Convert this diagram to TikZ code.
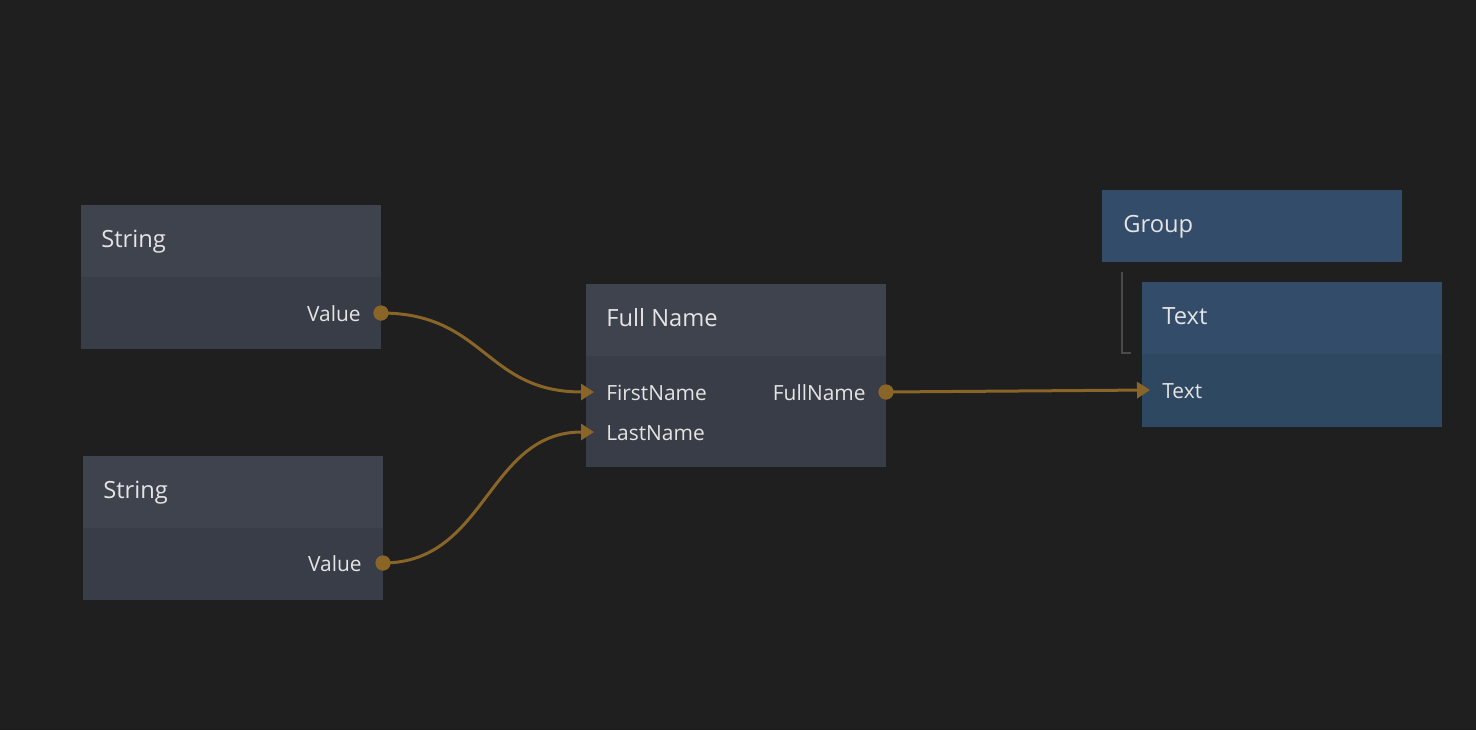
\documentclass[tikz,border=0pt]{standalone}
\usepackage{fontspec}
\setmainfont{Open Sans}
\usetikzlibrary{positioning,arrows.meta}
\definecolor{fond}{HTML}{1F1F1F}
\definecolor{grishaut}{HTML}{3F434E}
\definecolor{grisbas}{HTML}{393D47}
\definecolor{bleuhaut}{HTML}{334C69}
\definecolor{bleubas}{HTML}{2F4862}
\definecolor{texte}{HTML}{E4E4E4}
\definecolor{fil}{HTML}{8A6528}
\definecolor{trait}{HTML}{4A4A4A}
\tikzset{
  tete/.style={fill=grishaut,minimum width=6cm,minimum height=1.44cm,inner sep=0pt,outer sep=0pt,anchor=north west},
  corps/.style={fill=grisbas,minimum width=6cm,minimum height=1.44cm,inner sep=0pt,outer sep=0pt},
  titre/.style={text=texte,font=\fontsize{13.5pt}{16pt}\selectfont,inner sep=0pt,anchor=base west},
  port/.style={text=texte,font=\fontsize{11.9pt}{14pt}\selectfont,inner sep=0pt},
  pastille/.style={circle,fill=fil,minimum size=0.3cm,inner sep=0pt},
  fil/.style={color=fil,line width=0.06cm,-{Triangle[length=0.26cm,width=0.32cm]}}
}
\begin{document}
\begin{tikzpicture}[x=0.02cm,y=-0.02cm]
\fill[fond] (0,0) rectangle (1476,730); % le fond
\useasboundingbox (0,0) rectangle (1476,730);
% premier noeud String
\node[tete] (strunhaut) at (81,205) {};
\node[corps,below=0pt of strunhaut] (strunbas) {};
\node[titre] (struntitre) at (101,247) {String};
\node[port,anchor=base east] (strunval) at (361,321) {Value};
\node[pastille] (strunsortie) at (381,313) {};
% second noeud String
\node[tete] (strdeuxhaut) at (83,456) {};
\node[corps,below=0pt of strdeuxhaut] (strdeuxbas) {};
\node[titre] (strdeuxtitre) at (103,498) {String};
\node[port,anchor=base east] (strdeuxval) at (362,571) {Value};
\node[pastille] (strdeuxsortie) at (383,563) {};
% noeud Full Name
\node[tete] (nomhaut) at (586,284) {};
\node[corps,minimum height=2.22cm,below=0pt of nomhaut] (nombas) {};
\node[titre] (nomtitre) at (606,326) {Full Name};
\node[port,anchor=base west] (nomprenom) at (606,400) {FirstName};
\node[port,anchor=base west] (nomfamille) at (606,440) {LastName};
\node[port,anchor=base east] (nomcomplet) at (866,400) {FullName};
\node[pastille] (nomsortie) at (886,392) {};
\coordinate (nomentreeun) at (594,392);
\coordinate (nomentreedeux) at (594,432);
% noeuds Group et Text
\node[tete,fill=bleuhaut] (grouphaut) at (1102,190) {};
\node[titre] (grouptitre) at (1123,232) {Group};
\node[tete,fill=bleuhaut] (textehaut) at (1142,282) {};
\node[corps,fill=bleubas,minimum height=1.46cm,below=0pt of textehaut] (textebas) {};
\node[titre] (textetitre) at (1162,324) {Text};
\node[port,anchor=base west] (texteport) at (1162,398) {Text};
\coordinate (texteentree) at (1150,390);
\draw[color=trait,line width=0.04cm] (1122,272) |- (1131,353); % le lien de parenté
% les fils
\draw[fil] (strunsortie.center) .. controls (485,313) and (485,392) .. (nomentreeun);
\draw[fil] (strdeuxsortie.center) .. controls (487,563) and (487,432) .. (nomentreedeux);
\draw[fil] (nomsortie.center) -- (texteentree);
\node[pastille] at (strunsortie) {};
\node[pastille] at (strdeuxsortie) {};
\node[pastille] at (nomsortie) {};
\end{tikzpicture}
\end{document}
